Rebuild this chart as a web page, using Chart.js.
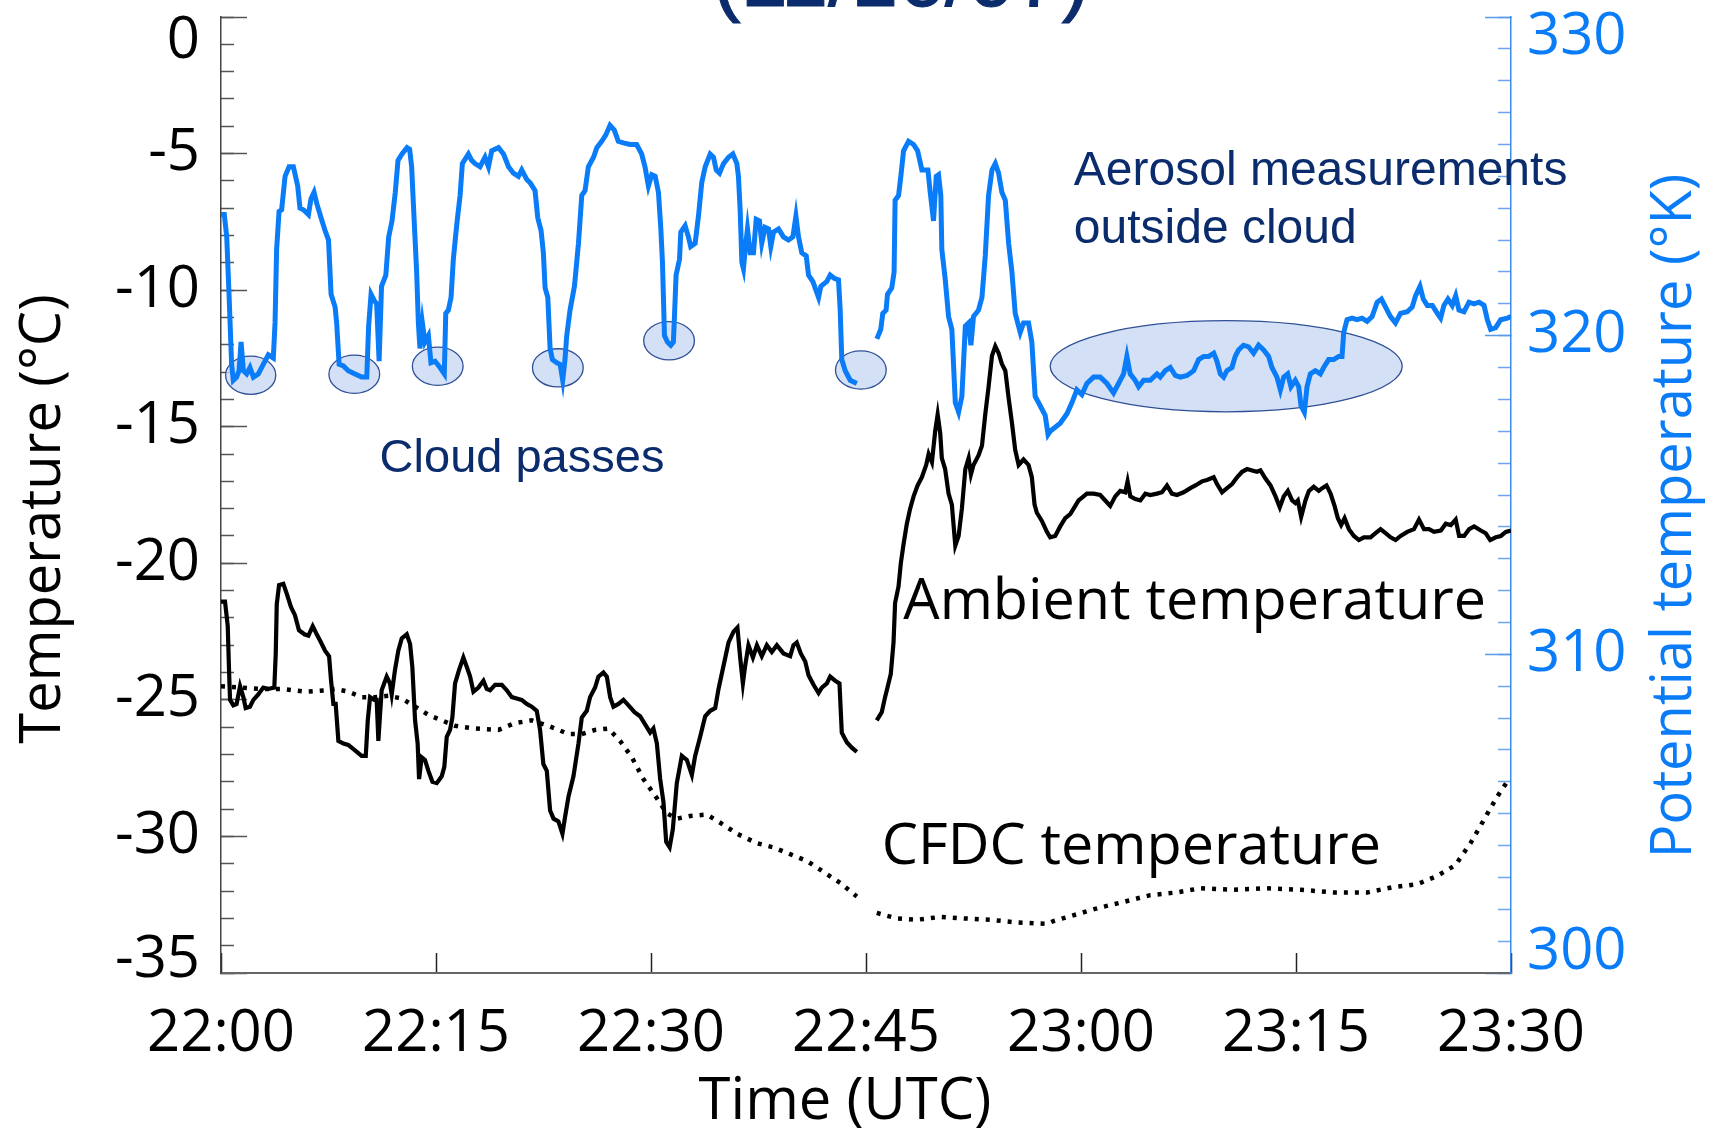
<!DOCTYPE html>
<html>
<head>
<meta charset="utf-8">
<script src="https://cdn.jsdelivr.net/npm/chart.js@4/dist/chart.umd.min.js"></script>
<style>
  html, body { margin: 0; padding: 0; background: #fff; }
  .chart-container { width: 1713px; height: 1131px; }
</style>
</head>
<body>
<div class="chart-container"><canvas id="chart"></canvas></div>
<script>
// minutes after 22:00 UTC
const thetaTime = [0,0.23,0.4,0.56,0.74,0.86,1.09,1.26,1.4,1.56,1.79,2.02,2.26,2.6,2.95,3.3,3.65,3.77,3.88,4.05,4.23,4.47,4.75,5.05,5.35,5.51,5.75,6.1,6.28,6.49,6.68,6.98,7.26,7.5,7.68,7.96,8.07,8.24,8.54,8.88,9.35,9.81,10.17,10.3,10.47,10.7,10.86,11.03,11.2,11.5,11.7,11.93,12.16,12.35,12.63,12.98,13.16,13.3,13.5,13.65,13.77,13.88,14.05,14.23,14.47,14.65,14.93,15.28,15.58,15.68,15.86,16.05,16.21,16.45,16.68,16.84,17.26,17.49,17.72,18.07,18.42,18.66,18.89,19.36,19.71,20.06,20.4,20.75,20.98,21.33,21.56,21.91,22.1,22.33,22.49,22.61,22.8,22.96,23.12,23.43,23.66,23.84,24.0,24.12,24.35,24.66,24.94,25.17,25.4,25.63,25.99,26.22,26.56,26.85,27.14,27.44,27.72,28.07,28.54,29.0,29.35,29.58,29.82,30.05,30.29,30.52,30.68,30.8,30.94,31.15,31.38,31.56,31.61,31.75,31.99,32.08,32.38,32.61,32.77,33.08,33.31,33.54,33.78,34.13,34.36,34.55,34.78,35.06,35.41,35.71,35.99,36.1,36.22,36.34,36.45,36.57,36.73,36.92,37.15,37.34,37.57,37.73,37.96,38.2,38.36,38.55,38.9,39.24,39.59,39.9,40.11,40.29,40.52,40.83,40.99,41.29,41.69,41.85,42.27,42.5,42.78,43.08,43.2,43.31,43.55,43.9,44.36,45.0,45.76,46.03,46.17,46.4,46.5,46.8,46.96,47.03,47.27,47.43,47.62,47.97,48.32,48.6,48.9,49.32,49.48,49.71,49.9,50.06,50.22,50.29,50.52,50.76,50.99,51.23,51.46,51.69,51.93,52.16,52.32,52.5,52.85,53.09,53.32,53.55,53.79,54.02,54.25,54.48,54.72,54.95,55.18,55.41,55.76,55.99,56.34,56.57,56.8,57.15,57.5,57.7,57.85,58.55,59.02,59.37,59.71,60.06,60.41,60.88,61.34,61.81,62.27,62.62,62.97,63.2,63.43,63.78,64.02,64.37,64.83,65.3,65.53,65.88,66.23,66.58,66.93,67.4,67.86,68.21,68.56,68.91,69.26,69.48,69.72,69.95,70.18,70.53,70.76,70.99,71.34,71.69,72.04,72.39,72.74,73.09,73.32,73.67,73.91,74.14,74.42,74.65,74.95,75.19,75.35,75.58,75.77,76.0,76.35,76.7,76.93,77.28,77.63,77.98,78.21,78.33,78.56,78.91,79.26,79.61,79.96,80.31,80.66,80.96,81.24,81.59,81.94,82.29,82.76,83.11,83.34,83.65,83.88,84.16,84.51,84.86,85.09,85.32,85.6,85.9,86.14,86.37,86.72,87.07,87.42,87.77,88.12,88.35,88.58,88.93,89.28,89.75,90.0];
const thetaK = [323.8,323.8,323.1,321.3,319.1,318.6,318.7,318.9,319.8,318.9,318.8,319.0,318.7,318.8,319.1,319.4,319.3,320.4,322.7,323.9,323.95,325.0,325.3,325.3,324.7,324.0,323.95,323.8,324.3,324.5,324.15,323.7,323.3,323.0,321.3,320.9,320.4,319.1,319.05,318.9,318.8,318.7,318.7,320.3,321.3,321.1,321.0,319.2,321.55,321.9,323.1,323.6,324.5,325.5,325.7,325.9,325.85,325.3,323.4,322.0,320.4,319.6,320.4,319.8,320.0,319.15,319.2,319.0,318.8,320.7,320.8,321.2,322.4,323.5,324.4,325.4,325.7,325.5,325.4,325.3,325.6,325.3,325.8,325.9,325.7,325.3,325.1,325.0,325.2,324.9,324.8,324.55,323.7,323.3,322.6,321.5,321.2,319.6,319.25,319.15,319.1,318.6,319.25,320.0,320.8,321.55,322.9,324.4,324.55,325.3,325.6,325.9,326.1,326.3,326.6,326.45,326.1,326.05,326.0,326.0,325.7,325.3,324.7,325.05,325.0,324.5,323.4,322.3,320.0,319.8,319.7,319.8,320.3,321.9,322.4,323.25,323.45,323.1,322.8,322.9,323.75,324.8,325.3,325.7,325.6,325.2,325.1,325.4,325.6,325.7,325.4,325.0,323.95,322.3,322.1,322.7,323.35,322.6,322.6,323.65,323.6,322.9,323.4,323.35,322.8,323.25,323.35,323.1,323.0,323.1,323.75,323.1,322.6,322.5,321.9,321.7,321.2,321.55,321.7,321.9,321.8,321.75,320.8,319.25,318.9,318.6,318.5,null,319.9,320.2,320.7,320.8,321.3,321.5,322.0,324.25,324.4,325.0,325.8,326.1,326.0,325.8,325.2,325.2,324.5,323.6,325.0,325.05,324.4,322.7,321.8,320.6,320.2,317.9,317.6,318.1,320.3,320.4,319.7,320.6,320.8,321.2,322.5,324.4,325.2,325.4,325.1,324.5,324.25,322.9,322.0,320.7,320.1,320.4,320.4,319.8,318.1,317.8,317.5,316.9,317.0,317.25,317.55,317.9,318.3,318.15,318.5,318.7,318.7,318.5,318.2,318.5,318.8,319.35,318.8,318.6,318.4,318.6,318.6,318.8,318.7,318.9,319.0,318.75,318.7,318.75,318.9,319.25,319.35,319.35,319.45,319.2,318.8,318.7,318.9,319.0,319.35,319.55,319.7,319.65,319.45,319.7,319.55,319.35,319.0,318.7,318.3,318.7,318.8,318.4,318.6,318.4,317.8,317.6,318.4,318.8,318.9,318.8,319.0,319.25,319.25,319.35,319.35,320.1,320.5,320.55,320.5,320.55,320.45,320.6,321.05,321.15,320.9,320.6,320.4,320.7,320.75,320.9,321.25,321.55,321.15,320.95,320.95,320.7,320.55,320.95,321.15,320.95,321.25,320.8,320.75,321.05,321.0,321.05,320.95,320.5,320.2,320.25,320.5,320.55,320.6];

const ambientTime = [0,0.28,0.47,0.56,0.63,0.86,1.09,1.33,1.56,1.72,2.02,2.26,2.6,2.95,3.3,3.72,3.82,3.89,4.05,4.35,4.58,4.88,5.16,5.44,5.82,6.1,6.4,6.68,6.98,7.26,7.54,7.68,7.84,8.0,8.19,8.54,8.88,9.35,9.81,10.1,10.24,10.4,10.7,10.86,10.98,11.1,11.21,11.56,11.79,11.91,12.14,12.37,12.61,12.96,13.19,13.35,13.54,13.72,13.82,14.0,14.23,14.47,14.75,15.05,15.4,15.58,15.75,15.98,16.14,16.33,16.61,16.91,17.15,17.38,17.61,17.96,18.31,18.54,18.77,19.12,19.59,19.94,20.29,20.63,20.98,21.33,21.68,22.03,22.26,22.49,22.73,22.96,23.2,23.54,23.82,24.0,24.24,24.59,24.94,25.17,25.52,25.75,26.1,26.33,26.68,26.92,27.15,27.38,27.73,28.08,28.43,28.85,29.24,29.59,29.94,30.17,30.41,30.64,30.87,31.06,31.3,31.52,31.8,32.15,32.5,32.85,33.08,33.43,33.78,34.13,34.48,34.71,35.06,35.41,35.76,36.03,36.22,36.41,36.57,36.8,37.11,37.39,37.73,38.08,38.43,38.78,39.24,39.71,39.94,40.17,40.45,40.76,40.99,41.34,41.69,41.92,42.27,42.5,42.85,43.15,43.31,43.66,44.01,44.36,45.0,45.75,46.1,46.33,46.5,46.73,46.92,47.03,47.27,47.43,47.62,47.85,48.08,48.32,48.6,48.9,49.2,49.37,49.6,49.83,50.0,50.18,50.29,50.52,50.76,50.99,51.23,51.46,51.69,51.93,52.16,52.32,52.5,52.85,53.09,53.32,53.55,53.79,54.02,54.25,54.48,54.72,54.95,55.18,55.41,55.65,55.99,56.34,56.57,56.76,56.92,57.27,57.62,57.85,58.2,58.55,58.9,59.25,59.6,59.83,60.18,60.41,60.88,61.34,61.69,62.04,62.39,62.74,63.09,63.25,63.44,63.79,64.14,64.49,64.83,65.3,65.65,66.0,66.34,66.69,67.16,67.63,67.98,68.44,68.79,69.26,69.49,69.84,70.19,70.54,70.89,71.24,71.59,71.94,72.28,72.52,72.87,73.22,73.57,73.87,74.15,74.43,74.73,74.96,75.13,75.36,75.66,75.9,76.24,76.59,76.83,77.13,77.41,77.69,77.92,78.15,78.39,78.69,79.04,79.39,79.73,80.2,80.55,80.9,81.25,81.6,81.95,82.3,82.76,83.23,83.58,83.93,84.28,84.63,85.1,85.45,85.8,86.14,86.38,86.73,87.08,87.43,87.89,88.24,88.55,88.94,89.29,89.64,90.0];
const ambientTemp = [-21.4,-21.4,-22.3,-23.9,-25.0,-25.2,-25.15,-24.5,-24.9,-25.3,-25.25,-25.0,-24.8,-24.55,-24.6,-24.55,-23.3,-21.5,-20.8,-20.75,-21.1,-21.6,-21.9,-22.45,-22.6,-22.65,-22.3,-22.6,-22.9,-23.2,-23.4,-24.3,-25.15,-25.15,-26.5,-26.6,-26.65,-26.85,-27.05,-27.05,-25.75,-24.9,-25.0,-25.0,-26.5,-25.5,-24.65,-24.15,-24.4,-24.8,-23.9,-23.2,-22.75,-22.6,-22.95,-23.8,-25.75,-26.6,-27.9,-27.1,-27.2,-27.6,-28.0,-28.05,-27.8,-27.45,-26.35,-26.1,-25.65,-24.4,-23.9,-23.45,-23.8,-24.15,-24.7,-24.55,-24.3,-24.6,-24.65,-24.45,-24.45,-24.65,-24.9,-24.95,-25.0,-25.15,-25.25,-25.4,-26.1,-27.35,-27.6,-29.05,-29.35,-29.45,-29.9,-29.3,-28.55,-27.8,-26.6,-25.65,-25.4,-24.9,-24.55,-24.15,-24.0,-24.15,-24.9,-25.25,-25.15,-25.0,-25.2,-25.45,-25.6,-25.9,-26.2,-26.05,-26.6,-27.9,-28.75,-30.2,-30.4,-29.75,-28.05,-27.05,-27.2,-27.75,-27.05,-26.35,-25.6,-25.4,-25.3,-24.6,-23.75,-22.9,-22.5,-22.35,-23.45,-24.4,-23.75,-23.0,-23.45,-23.0,-23.4,-23.0,-23.25,-23.0,-23.3,-23.4,-23.0,-22.9,-23.3,-23.6,-24.1,-24.45,-24.75,-24.55,-24.4,-24.15,-24.3,-24.4,-26.2,-26.55,-26.75,-26.9,null,-25.75,-25.45,-24.9,-24.55,-24.05,-22.9,-21.45,-20.85,-20.0,-19.3,-18.55,-18.0,-17.55,-17.15,-16.85,-16.4,-16.0,-16.3,-15.15,-14.55,-15.25,-16.15,-16.55,-17.45,-17.85,-19.35,-19.0,-18.0,-16.55,-16.15,-16.75,-16.4,-16.05,-15.7,-14.55,-13.55,-12.4,-12.05,-12.3,-12.7,-12.95,-13.95,-14.85,-15.85,-16.4,-16.2,-16.4,-16.85,-17.85,-18.15,-18.45,-18.85,-19.05,-19.0,-18.65,-18.35,-18.2,-17.9,-17.7,-17.55,-17.45,-17.45,-17.5,-17.7,-17.9,-17.55,-17.35,-17.4,-17.0,-17.55,-17.65,-17.7,-17.45,-17.5,-17.45,-17.4,-17.15,-17.45,-17.5,-17.4,-17.25,-17.15,-17.0,-16.95,-16.85,-17.1,-17.4,-17.25,-17.1,-16.85,-16.65,-16.55,-16.6,-16.65,-16.6,-16.9,-17.15,-17.55,-17.95,-17.55,-17.35,-17.7,-17.8,-17.7,-18.3,-17.7,-17.35,-17.2,-17.35,-17.25,-17.15,-17.45,-17.9,-18.35,-18.6,-18.35,-18.75,-19.0,-19.15,-19.05,-19.05,-18.9,-18.75,-18.9,-19.05,-19.15,-19.0,-18.85,-18.75,-18.4,-18.75,-18.75,-18.85,-18.8,-18.55,-18.6,-18.4,-19.0,-19.0,-18.75,-18.65,-18.8,-18.9,-19.15,-19.05,-19.0,-18.85,-18.8];

const cfdcTime = [0,1.44,2.84,4.23,5.86,7.26,7.96,8.88,9.81,10.75,11.68,12.61,13.54,14.47,15.4,16.33,17.73,19.36,20.52,21.68,22.84,24.24,25.17,26.1,27.03,27.84,28.66,29.47,30.41,31.1,31.8,32.73,33.9,34.83,36.0,37.39,38.55,39.71,40.88,42.04,43.2,44.36,45.0,45.75,47.15,48.55,50.18,51.81,53.67,55.53,57.62,58.08,59.71,61.34,62.97,64.83,66.69,68.32,70.65,72.97,75.3,77.63,79.96,81.82,83.45,84.84,86.12,87.17,88.1,89.03,89.73];
const cfdcTemp = [-24.5,-24.55,-24.6,-24.6,-24.7,-24.65,-24.6,-24.7,-24.9,-24.9,-24.85,-24.95,-25.25,-25.55,-25.75,-25.95,-26.05,-26.1,-25.85,-25.75,-25.95,-26.25,-26.25,-26.1,-26.05,-26.5,-27.1,-27.9,-28.6,-29.15,-29.35,-29.25,-29.2,-29.5,-29.9,-30.25,-30.4,-30.65,-30.9,-31.3,-31.7,-32.2,null,-32.8,-33.0,-33.05,-32.95,-33.0,-33.05,-33.15,-33.2,-33.1,-32.85,-32.6,-32.4,-32.15,-32.05,-31.9,-31.95,-31.9,-31.95,-32.05,-32.05,-31.85,-31.75,-31.45,-31.05,-30.25,-29.4,-28.55,-28.0];

// highlighted cloud passes / out-of-cloud period (centre time, centre theta, half-extents)
const passTime = [2.07, 9.3, 15.12, 23.5, 31.26, 44.64, 70.13];
const passTheta = [318.76, 318.79, 319.04, 318.99, 319.84, 318.92, 319.04];
const passHalfMin = [1.75, 1.77, 1.77, 1.77, 1.77, 1.77, 12.28];
const passHalfK = [0.6, 0.6, 0.6, 0.6, 0.6, 0.6, 1.43];

const tempTicksC = [0, -5, -10, -15, -20, -25, -30, -35];
const thetaTicksK = [330, 320, 310, 300];

const toPoints = (xs, ys) => xs.map((x, i) => ({ x: x, y: ys[i] }));
const clockLabel = v => {
  const t = 22 * 60 + v;
  return Math.floor(t / 60) + ':' + String(t % 60).padStart(2, '0');
};

const NAVY = '#0b2c6c';
const BLUE = '#0a7cf8';
const SANS = '"Open Sans", sans-serif';

// keep the plot box where the original has it
const fixBox = size => s => {
  if (s.isHorizontal()) s.height = size; else s.width = size;
  s.paddingTop = 0; s.paddingBottom = 0; s.paddingLeft = 0; s.paddingRight = 0;
};

const annotations = {
  id: 'annotations',
  beforeDatasetsDraw(chart) {
    const { ctx, scales } = chart;
    const xs = scales.x, yr = scales.yR;
    ctx.save();
    passTime.forEach((t, i) => {
      const cx = xs.getPixelForValue(t);
      const cy = yr.getPixelForValue(passTheta[i]);
      const rx = Math.abs(xs.getPixelForValue(t + passHalfMin[i]) - cx);
      const ry = Math.abs(yr.getPixelForValue(passTheta[i] + passHalfK[i]) - cy);
      ctx.beginPath();
      ctx.ellipse(cx, cy, rx, ry, 0, 0, Math.PI * 2);
      ctx.fillStyle = 'rgba(200,216,242,0.8)';
      ctx.fill();
      ctx.lineWidth = 1.3;
      ctx.strokeStyle = '#2f5096';
      ctx.stroke();
    });
    ctx.restore();
  },
  afterDatasetsDraw(chart) {
    const { ctx, scales, chartArea } = chart;
    const xs = scales.x, y = scales.y;
    ctx.save();
    ctx.textBaseline = 'middle';
    ctx.fillStyle = NAVY;
    ctx.font = '48px "Liberation Sans", Arial, sans-serif';
    ctx.textAlign = 'left';
    ctx.fillText('Aerosol measurements', xs.getPixelForValue(59.5), y.getPixelForValue(-5.65));
    ctx.fillText('outside cloud', xs.getPixelForValue(59.5), y.getPixelForValue(-7.8));
    ctx.font = '47px "Liberation Sans", Arial, sans-serif';
    ctx.textAlign = 'center';
    ctx.fillText('Cloud passes', xs.getPixelForValue(21.0), y.getPixelForValue(-16.2));
    ctx.fillStyle = '#000';
    ctx.textAlign = 'left';
    ctx.font = '57.5px ' + SANS;
    ctx.fillText('Ambient temperature', xs.getPixelForValue(47.6), y.getPixelForValue(-21.45));
    ctx.fillText('CFDC temperature', xs.getPixelForValue(46.1), y.getPixelForValue(-30.4));

    // axis titles
    ctx.textAlign = 'center';
    ctx.font = '58px ' + SANS;
    ctx.fillText('Time (UTC)', chartArea.left + 624, 1102);
    ctx.font = '56px ' + SANS;
    ctx.save();
    ctx.translate(44, chartArea.top + 502);
    ctx.rotate(-Math.PI / 2);
    ctx.fillText('Temperature (°C)', 0, 0);
    ctx.restore();
    ctx.save();
    ctx.fillStyle = BLUE;
    ctx.translate(1675, chartArea.top + 499);
    ctx.rotate(-Math.PI / 2);
    ctx.fillText('Potential temperature (°K)', 0, 0);
    ctx.restore();

    // date title, cut by the top edge in the original figure
    ctx.fillStyle = NAVY;
    ctx.strokeStyle = NAVY;
    ctx.lineWidth = 1;
    ctx.textBaseline = 'alphabetic';
    ctx.font = '84px "Liberation Sans", Arial, sans-serif';
    const tx = xs.getPixelForValue(47.45);
    ctx.fillText('(11/16/07)', tx, 6);
    ctx.strokeText('(11/16/07)', tx, 6);
    ctx.restore();
  }
};

const ctx = document.getElementById('chart').getContext('2d');
new Chart(ctx, {
  type: 'line',
  data: {
    datasets: [
      {
        label: 'Potential temperature',
        data: toPoints(thetaTime, thetaK),
        yAxisID: 'yR',
        borderColor: BLUE,
        borderWidth: 5,
        pointRadius: 0,
        tension: 0,
        spanGaps: false
      },
      {
        label: 'Ambient temperature',
        data: toPoints(ambientTime, ambientTemp),
        yAxisID: 'y',
        borderColor: '#000',
        borderWidth: 4.2,
        pointRadius: 0,
        tension: 0,
        spanGaps: false
      },
      {
        label: 'CFDC temperature',
        data: toPoints(cfdcTime, cfdcTemp),
        yAxisID: 'y',
        borderColor: '#000',
        borderWidth: 4.5,
        borderDash: [4, 7],
        pointRadius: 0,
        tension: 0,
        spanGaps: false
      }
    ]
  },
  options: {
    responsive: true,
    maintainAspectRatio: false,
    devicePixelRatio: 1,
    animation: false,
    layout: { padding: { top: 17, left: 0, right: 0, bottom: 0 } },
    plugins: { legend: { display: false }, tooltip: { enabled: false }, title: { display: false } },
    scales: {
      x: {
        type: 'linear',
        position: 'bottom',
        min: 0,
        max: 90,
        afterFit: fixBox(158),
        ticks: { stepSize: 15, autoSkip: false, maxRotation: 0, padding: 47, color: '#000', font: { family: SANS, size: 58 }, callback: clockLabel },
        grid: { drawOnChartArea: false, tickLength: -20, tickColor: '#222', tickWidth: 1.5 },
        border: { color: '#666', width: 2 }
      },
      yMinor: {
        type: 'linear',
        position: 'left',
        weight: 0,
        min: -35,
        max: 0,
        afterFit: fixBox(0),
        ticks: { display: false, stepSize: 1 },
        grid: { drawOnChartArea: false, tickLength: -13, tickColor: '#555', tickWidth: 1.5 },
        border: { display: false }
      },
      y: {
        type: 'linear',
        position: 'left',
        weight: 1,
        min: -35,
        max: 0,
        afterFit: fixBox(221),
        afterBuildTicks: s => { s.ticks = tempTicksC.map(v => ({ value: v })); },
        ticks: {
          padding: 47,
          color: '#000',
          font: { family: SANS, size: 58, lineHeight: 0.42 },
          callback: v => v === 0 ? ['', '', '0'] : (v === -35 ? ['-35', ''] : String(v))
        },
        grid: { drawOnChartArea: false, tickLength: -26, tickColor: '#555', tickWidth: 1.5 },
        border: { color: '#444', width: 1.5 }
      },
      yRMinor: {
        type: 'linear',
        position: 'right',
        weight: 0,
        min: 300,
        max: 330,
        afterFit: fixBox(0),
        ticks: { display: false, stepSize: 1 },
        grid: { drawOnChartArea: false, tickLength: -13, tickColor: '#6ea6ec', tickWidth: 1.5 },
        border: { display: false }
      },
      yR: {
        type: 'linear',
        position: 'right',
        weight: 1,
        min: 300,
        max: 330,
        afterFit: fixBox(202),
        afterBuildTicks: s => { s.ticks = thetaTicksK.map(v => ({ value: v })); },
        ticks: {
          padding: 42,
          color: BLUE,
          font: { family: SANS, size: 58, lineHeight: 0.72 },
          callback: v => v === 330 ? ['', '330'] : (v === 300 ? ['300', ''] : String(v))
        },
        grid: { drawOnChartArea: false, tickLength: -26, tickColor: '#5a9ae8', tickWidth: 1.5 },
        border: { color: '#3a8bf0', width: 1.5 }
      }
    }
  },
  plugins: [annotations]
});
</script>
</body>
</html>
